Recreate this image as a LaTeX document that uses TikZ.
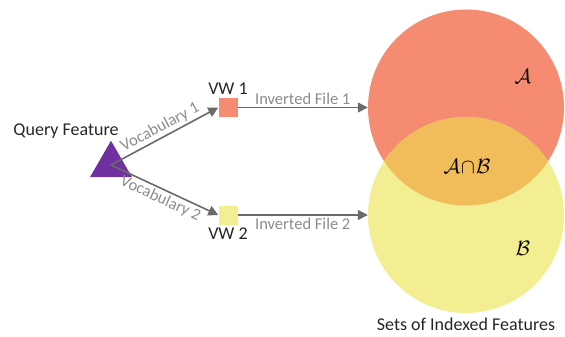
\documentclass[tikz,border=0pt]{standalone}
\usepackage{fontspec}
\setmainfont{Carlito}
\usetikzlibrary{positioning}
\usetikzlibrary{arrows.meta}
\usetikzlibrary{shapes.geometric}
\definecolor{setAcol}{HTML}{F58C71}
\definecolor{setBcol}{HTML}{F3EE91}
\definecolor{bothcol}{HTML}{F0BD5A}
\definecolor{querycol}{HTML}{7030A0}
\definecolor{linkcol}{HTML}{6A6A6A}
\definecolor{labelcol}{HTML}{8C8C8C}
\definecolor{textcol}{HTML}{262626}
\tikzset{vwbox/.style={rectangle,draw=none,
inner sep=0pt,minimum size=19pt}}
\tikzset{setcircle/.style={circle,draw=none,inner sep=0pt,minimum size=196pt}}
\tikzset{link/.style={draw=linkcol,line width=1.6pt,-{Triangle[length=10pt,width=10pt]}}}
\tikzset{linklabel/.style={text=labelcol,font=\fontsize{16.5}{18}\selectfont,inner sep=1pt}}
\tikzset{featname/.style={text=textcol,font=\fontsize{18}{20}\selectfont,inner sep=1pt}}
\tikzset{setname/.style={font=\fontsize{21}{24}\selectfont,inner sep=1pt}}

\begin{document}
\begin{tikzpicture}[x=1pt,y=-1pt]
    \useasboundingbox (0,0) rectangle (565,337);

    \node[setcircle,fill=setAcol] (setA) at (466,107.5) {};
    \node[setcircle,fill=setBcol] (setB) at (466,215) {};
    \begin{scope}
        \clip (466,107.5) circle (98);
        \fill[bothcol] (466,215) circle (98);
    \end{scope}
    \node[setname] (labA) at (523,76) {$\mathcal{A}$};
    \node[setname] (labB) at (523,248) {$\mathcal{B}$};
    \node[setname] (labAB) at (467,166) {$\mathcal{A}\!\cap\!\mathcal{B}$};
    \node[featname] (sets) [below=4pt of setB] {Sets of Indexed Features};

    \node[regular polygon,regular polygon sides=3,fill=querycol,
        inner sep=0pt,minimum size=48.5pt] (query) at (111,165) {};
    \node[featname] (querytext) at (66,131) {Query Feature};

    \node[vwbox,fill=setAcol] (vw1) at (228,107.5) {};
    \node[vwbox,fill=setBcol] (vw2) at (228,215) {};
    \node[featname] (vw1text) [above=2pt of vw1] {VW 1};
    \node[featname] (vw2text) [below=2pt of vw2] {VW 2};

    \draw[link] (query.center) --node[linklabel,sloped,above=1pt] {Vocabulary 1} (vw1.west);
    \draw[link] (query.center) --node[linklabel,sloped,below=1pt] {Vocabulary 2} (vw2.west);
    \draw[link] (vw1.east) --node[linklabel,above=1pt] {Inverted File 1} (setA.west);
    \draw[link] (vw2.east) --node[linklabel,below=1pt] {Inverted File 2} (setB.west);

\end{tikzpicture}
\end{document}
